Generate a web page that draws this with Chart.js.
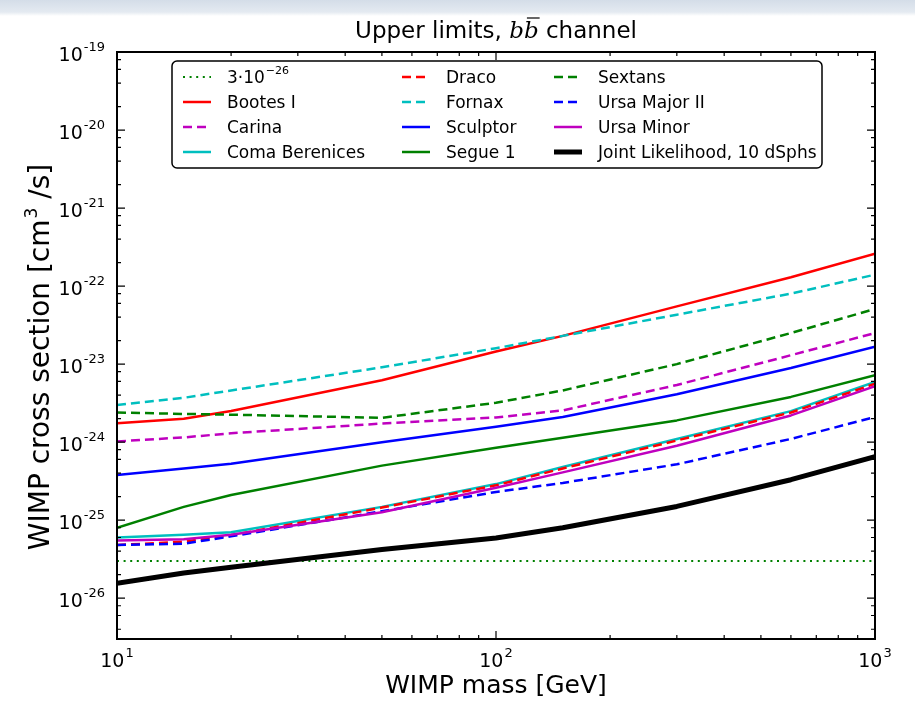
<!DOCTYPE html>
<html>
<head>
<meta charset="utf-8">
<script src="https://cdn.jsdelivr.net/npm/chart.js@4"></script>
<style>
html,body{margin:0;padding:0;background:#fff;}
#wrap{position:relative;width:915px;height:705px;}
canvas{display:block;}
</style>
</head>
<body>
<div id="wrap"><canvas id="c" width="915" height="705"></canvas></div>
<script>
// ---- data ----
const masses = [10, 15, 20, 50, 100, 150, 300, 600, 1000];
const thermalX = [10, 1000];
const thermalY = [3e-26, 3e-26];
const bootesI = [1.75e-24, 2.0e-24, 2.5e-24, 6.2e-24, 1.45e-23, 2.3e-23, 5.5e-23, 1.3e-22, 2.6e-22];
const carina = [1.02e-24, 1.15e-24, 1.3e-24, 1.73e-24, 2.07e-24, 2.55e-24, 5.4e-24, 1.3e-23, 2.5e-23];
const comaBerenices = [6.0e-26, 6.5e-26, 7.0e-26, 1.48e-25, 2.9e-25, 4.8e-25, 1.1e-24, 2.5e-24, 5.9e-24];
const draco = [4.8e-26, 5.3e-26, 6.4e-26, 1.45e-25, 2.8e-25, 4.6e-25, 1.05e-24, 2.4e-24, 5.6e-24];
const fornax = [3.0e-24, 3.7e-24, 4.6e-24, 9.1e-24, 1.6e-23, 2.3e-23, 4.3e-23, 8.0e-23, 1.4e-22];
const sculptor = [3.8e-25, 4.6e-25, 5.3e-25, 1.0e-24, 1.58e-24, 2.1e-24, 4.1e-24, 8.9e-24, 1.67e-23];
const segue1 = [8.0e-26, 1.48e-25, 2.1e-25, 5.0e-25, 8.5e-25, 1.14e-24, 1.9e-24, 3.8e-24, 7.2e-24];
const sextans = [2.4e-24, 2.3e-24, 2.25e-24, 2.05e-24, 3.2e-24, 4.6e-24, 1.0e-23, 2.5e-23, 5.1e-23];
const ursaMajorII = [4.8e-26, 5.0e-26, 6.2e-26, 1.3e-25, 2.3e-25, 3.0e-25, 5.2e-25, 1.1e-24, 2.1e-24];
const ursaMinor = [5.5e-26, 5.7e-26, 6.5e-26, 1.26e-25, 2.6e-25, 4.1e-25, 9.0e-25, 2.2e-24, 5.2e-24];
const jointLikelihood = [1.55e-26, 2.1e-26, 2.5e-26, 4.2e-26, 5.9e-26, 8.0e-26, 1.5e-25, 3.3e-25, 6.5e-25];

const xTickValues = [10, 100, 1000];
const xTickExps = ['1', '2', '3'];
const yTickValues = [1e-19, 1e-20, 1e-21, 1e-22, 1e-23, 1e-24, 1e-25, 1e-26];
const yTickExps = ['-19', '-20', '-21', '-22', '-23', '-24', '-25', '-26'];
const xMinorSubs = [2, 3, 4, 5, 6, 7, 8, 9];
const yMinorSubs = [2, 4, 6, 8];

// ---- series table ----
const DASH = [9, 5];
const series = [
  {label: '3\u00b710', sup: '\u221226', xs: thermalX, ys: thermalY, color: '#008000', dash: [2, 4.6], width: 2},
  {label: 'Bootes I', xs: masses, ys: bootesI, color: '#ff0000', dash: [], width: 2.5},
  {label: 'Carina', xs: masses, ys: carina, color: '#bf00bf', dash: DASH, width: 2.5},
  {label: 'Coma Berenices', xs: masses, ys: comaBerenices, color: '#00bfbf', dash: [], width: 2.5},
  {label: 'Draco', xs: masses, ys: draco, color: '#ff0000', dash: DASH, width: 2.5},
  {label: 'Fornax', xs: masses, ys: fornax, color: '#00bfbf', dash: DASH, width: 2.5},
  {label: 'Sculptor', xs: masses, ys: sculptor, color: '#0000ff', dash: [], width: 2.5},
  {label: 'Segue 1', xs: masses, ys: segue1, color: '#008000', dash: [], width: 2.5},
  {label: 'Sextans', xs: masses, ys: sextans, color: '#008000', dash: DASH, width: 2.5},
  {label: 'Ursa Major II', xs: masses, ys: ursaMajorII, color: '#0000ff', dash: DASH, width: 2.5},
  {label: 'Ursa Minor', xs: masses, ys: ursaMinor, color: '#bf00bf', dash: [], width: 2.5},
  {label: 'Joint Likelihood, 10 dSphs', xs: masses, ys: jointLikelihood, color: '#000000', dash: [], width: 5}
];

const N = series.length;
const datasets = series.map((s, i) => ({
  label: s.label,
  data: s.xs.map((x, k) => ({x: x, y: s.ys[k]})),
  borderColor: s.color,
  backgroundColor: s.color,
  borderWidth: s.width,
  borderDash: s.dash,
  borderCapStyle: 'butt',
  borderJoinStyle: 'round',
  pointRadius: 0,
  tension: 0,
  fill: false,
  order: N - i
}));

const SANS = '"DejaVu Sans", sans-serif';

function txt(ctx, s, x, y, font, align) {
  ctx.font = font; ctx.textAlign = align || 'left'; ctx.fillText(s, x, y);
  return ctx.measureText(s).width;
}

const deco = {
  id: 'deco',
  beforeDraw(chart) {
    const ctx = chart.ctx;
    ctx.save();
    ctx.fillStyle = '#ffffff';
    ctx.fillRect(0, 0, chart.width, chart.height);
    const g = ctx.createLinearGradient(0, 0, 0, 16);
    g.addColorStop(0, '#d4dde8');
    g.addColorStop(0.75, '#e4eaf1');
    g.addColorStop(1, '#ffffff');
    ctx.fillStyle = g;
    ctx.fillRect(0, 0, chart.width, 16);
    ctx.restore();
  },
  afterDraw(chart) {
    const ctx = chart.ctx;
    const a = chart.chartArea;
    const xs = chart.scales.x, ys = chart.scales.y;
    ctx.save();
    ctx.strokeStyle = '#000';
    ctx.fillStyle = '#000';
    // frame
    ctx.lineWidth = 2;
    ctx.setLineDash([]);
    ctx.strokeRect(a.left, a.top, a.right - a.left, a.bottom - a.top);
    // ticks
    ctx.lineWidth = 1.2;
    function hTick(y, len) {
      ctx.beginPath();
      ctx.moveTo(a.left, y); ctx.lineTo(a.left + len, y);
      ctx.moveTo(a.right, y); ctx.lineTo(a.right - len, y);
      ctx.stroke();
    }
    function vTick(x, len) {
      ctx.beginPath();
      ctx.moveTo(x, a.bottom); ctx.lineTo(x, a.bottom - len);
      ctx.moveTo(x, a.top); ctx.lineTo(x, a.top + len);
      ctx.stroke();
    }
    for (let d = 10; d < 1000; d *= 10) {
      xMinorSubs.forEach(s => vTick(xs.getPixelForValue(d * s), 4));
    }
    xTickValues.forEach(v => vTick(xs.getPixelForValue(v), 8));
    for (let e = -27; e < -19; e++) {
      yMinorSubs.forEach(s => {
        const v = s * Math.pow(10, e);
        if (v >= ys.min && v <= ys.max) hTick(ys.getPixelForValue(v), 4);
      });
    }
    yTickValues.forEach(v => hTick(ys.getPixelForValue(v), 8));

    // tick labels
    ctx.textBaseline = 'alphabetic';
    const big = '19px ' + SANS, small = '13px ' + SANS;
    yTickValues.forEach((v, i) => {
      const y = ys.getPixelForValue(v);
      ctx.font = small; const ws = ctx.measureText(yTickExps[i]).width;
      ctx.font = big; const wb = ctx.measureText('10').width;
      const right = a.left - 12;
      txt(ctx, yTickExps[i], right - ws, y - 1, small);
      txt(ctx, '10', right - ws - wb - 1, y + 9, big);
    });
    xTickValues.forEach((v, i) => {
      const x = xs.getPixelForValue(v);
      ctx.font = small; const ws = ctx.measureText(xTickExps[i]).width;
      ctx.font = big; const wb = ctx.measureText('10').width;
      const left = x - (wb + ws + 1) / 2;
      txt(ctx, '10', left, a.bottom + 28, big);
      txt(ctx, xTickExps[i], left + wb + 1, a.bottom + 18, small);
    });

    // axis labels
    txt(ctx, 'WIMP mass [GeV]', (a.left + a.right) / 2, 693, '25px ' + SANS, 'center');
    ctx.save();
    ctx.translate(49, (a.top + a.bottom) / 2 + 12);
    ctx.rotate(-Math.PI / 2);
    const yl1 = 'WIMP cross section [cm', yl2 = '3', yl3 = ' /s]';
    const fY = '28px ' + SANS, fYs = '17px ' + SANS;
    ctx.font = fY; const w1 = ctx.measureText(yl1).width, w3 = ctx.measureText(yl3).width;
    ctx.font = fYs; const w2 = ctx.measureText(yl2).width;
    let sx = -(w1 + w2 + w3) / 2;
    txt(ctx, yl1, sx, 0, fY); sx += w1;
    txt(ctx, yl2, sx + 1, -12, fYs); sx += w2 + 1;
    txt(ctx, yl3, sx, 0, fY);
    ctx.restore();

    // title
    const fT = '23px ' + SANS, fTi = 'italic 23px "DejaVu Serif", serif';
    const t1 = 'Upper limits, ', t3 = ' channel';
    ctx.font = fT; const tw1 = ctx.measureText(t1).width, tw3 = ctx.measureText(t3).width;
    ctx.font = fTi; const tb = ctx.measureText('b').width;
    let tx = (a.left + a.right) / 2 - (tw1 + 2 * tb + tw3) / 2;
    const ty = 38;
    txt(ctx, t1, tx, ty, fT); tx += tw1;
    txt(ctx, 'b', tx, ty, fTi); tx += tb;
    txt(ctx, 'b', tx, ty, fTi);
    ctx.lineWidth = 1.2;
    ctx.beginPath(); ctx.moveTo(tx + 3, ty - 20); ctx.lineTo(tx + tb + 1, ty - 20); ctx.stroke();
    tx += tb;
    txt(ctx, t3, tx, ty, fT);

    // legend
    const bx = 172, by = 61, bw = 650, bh = 107, r = 5;
    ctx.fillStyle = '#fff';
    ctx.strokeStyle = '#000';
    ctx.lineWidth = 1.5;
    ctx.beginPath();
    ctx.moveTo(bx + r, by);
    ctx.arcTo(bx + bw, by, bx + bw, by + bh, r);
    ctx.arcTo(bx + bw, by + bh, bx, by + bh, r);
    ctx.arcTo(bx, by + bh, bx, by, r);
    ctx.arcTo(bx, by, bx + bw, by, r);
    ctx.closePath();
    ctx.fill(); ctx.stroke();
    const colX = [183, 402, 554];
    const rowY = [77, 102, 127, 152];
    const fL = '17px ' + SANS, fLs = '11px ' + SANS;
    chart.data.datasets.forEach((ds, i) => {
      const c = Math.floor(i / 4), rr = i % 4;
      const lx = colX[c], ly = rowY[rr];
      ctx.strokeStyle = ds.borderColor;
      ctx.lineWidth = ds.borderWidth;
      ctx.setLineDash(ds.borderDash || []);
      ctx.lineCap = 'butt';
      ctx.beginPath(); ctx.moveTo(lx, ly); ctx.lineTo(lx + 28, ly); ctx.stroke();
      ctx.setLineDash([]);
      ctx.fillStyle = '#000';
      const w = txt(ctx, ds.label, lx + 44, ly + 6, fL);
      if (series[i].sup) txt(ctx, series[i].sup, lx + 44 + w + 1, ly - 3, fLs);
    });
    ctx.restore();
  }
};

new Chart(document.getElementById('c'), {
  type: 'line',
  data: {datasets: datasets},
  options: {
    responsive: false,
    animation: false,
    events: [],
    layout: {padding: {left: 117, right: 40, top: 52, bottom: 66}},
    scales: {
      x: {type: 'logarithmic', min: 10, max: 1000, display: false},
      y: {type: 'logarithmic', min: 3e-27, max: 1e-19, display: false}
    },
    plugins: {legend: {display: false}, title: {display: false}, tooltip: {enabled: false}}
  },
  plugins: [deco]
});
</script>
</body>
</html>
